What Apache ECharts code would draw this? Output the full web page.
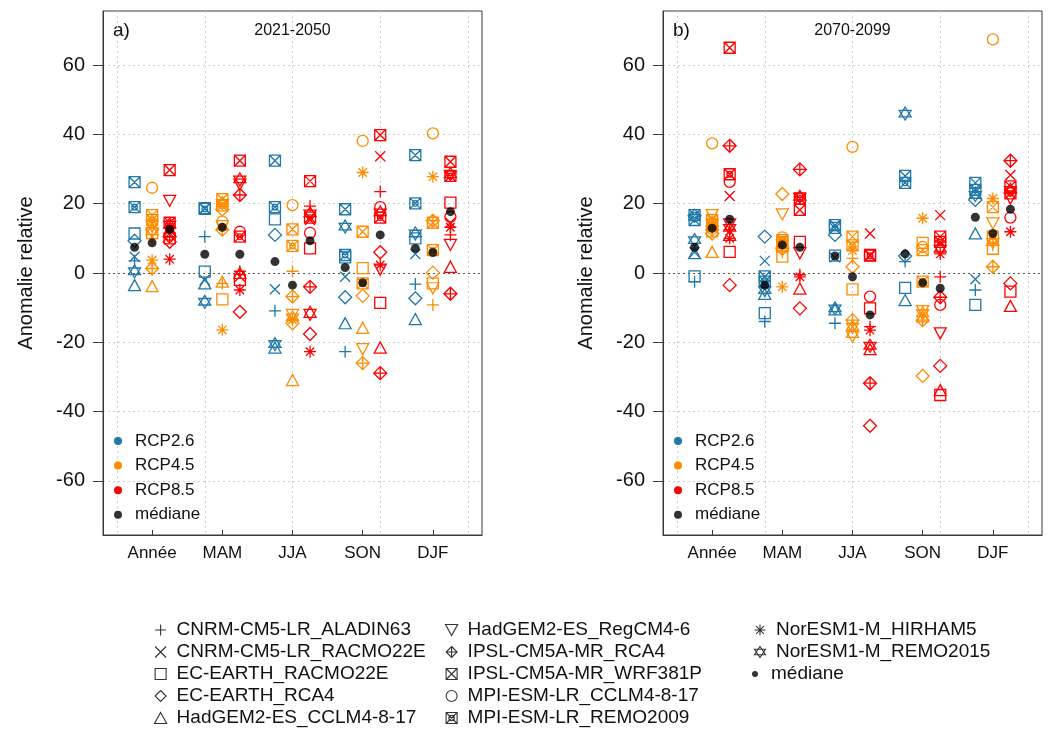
<!DOCTYPE html>
<html><head><meta charset="utf-8">
<script src="https://cdn.jsdelivr.net/npm/echarts@6/dist/echarts.min.js"></script>
<style>html,body{margin:0;padding:0;background:#fff}#c{width:1056px;height:733px}</style>
</head><body><div id="c"></div>
<script>
// ---------- DATA ----------
const seasons = ['Année', 'MAM', 'JJA', 'SON', 'DJF'];
const rcps = ['RCP2.6', 'RCP4.5', 'RCP8.5'];
const periods = ['2021-2050', '2070-2099'];
const panelTags = ['a)', 'b)'];
const yTicks = [-60, -40, -20, 0, 20, 40, 60];
const models = ['CNRM-CM5-LR_ALADIN63', 'CNRM-CM5-LR_RACMO22E', 'EC-EARTH_RACMO22E', 'EC-EARTH_RCA4',
  'HadGEM2-ES_CCLM4-8-17', 'HadGEM2-ES_RegCM4-6', 'IPSL-CM5A-MR_RCA4', 'IPSL-CM5A-MR_WRF381P',
  'MPI-ESM-LR_CCLM4-8-17', 'MPI-ESM-LR_REMO2009', 'NorESM1-M_HIRHAM5', 'NorESM1-M_REMO2015'];
const medianName = 'médiane';

// rows = seasons, columns = models (same order as `models`)
// panel a) 2021-2050
const a26 = [
  [3.5, 4.7, 11.4, 9.3, -3.5, null, null, 26.2, null, 19.0, null, 0.5],
  [10.5, -2.0, 0.4, null, -3.0, null, null, 18.7, null, 18.5, null, -8.3],
  [-10.9, -4.7, 15.5, 11.0, -21.5, null, null, 32.4, null, 19.0, null, -20.5],
  [-22.7, -1.1, 4.5, -7.0, -14.5, null, null, 18.4, null, 5.2, null, 13.4],
  [-3.2, 5.5, 10.0, -7.3, -13.3, null, null, 34.0, null, 20.1, null, 11.4]
];
const a45 = [
  [10.0, null, 11.5, 12.5, -3.8, 13.4, 1.3, 16.7, 24.6, 15.3, 3.7, 12.0],
  [-3.0, null, -7.6, 18.3, -2.5, 13.5, 12.5, 21.3, 14.8, 19.5, -16.4, 20.2],
  [0.5, null, null, -14.5, -30.9, -12.1, -6.8, 12.6, 19.6, 7.8, -13.5, -12.8],
  [null, null, 1.4, -6.6, -15.8, -22.0, -26.0, 11.9, 38.1, -3.0, 29.0, null],
  [-9.2, null, -3.0, 0.1, null, -4.4, 15.1, 14.5, 40.3, 6.6, 27.8, null]
];
const a85 = [
  [13.0, 11.5, 10.0, 9.0, 12.0, 20.8, 10.5, 29.7, 11.0, 14.5, 4.0, 14.0],
  [0.5, -1.0, -2.0, -11.2, 0.0, 25.5, 22.5, 32.4, 11.9, 10.5, -4.9, 27.0],
  [19.3, 15.3, 7.1, -17.6, -11.2, -12.1, -4.0, 26.5, 11.6, 16.0, -22.7, 17.2],
  [23.5, 33.7, -8.6, 6.0, -21.5, 1.0, -28.9, 39.8, 19.0, 16.0, 2.3, 17.5],
  [11.0, 14.5, 20.3, null, 1.8, 8.1, -6.0, 32.1, 16.2, 28.0, 13.2, 28.5]
];
// panel b) 2070-2099
const b26 = [
  [-2.5, 6.0, -1.0, 16.5, 5.7, null, null, 15.3, null, 16.7, null, 9.5],
  [-14.0, 3.5, -11.6, 10.5, -6.0, null, null, -1.0, null, -2.5, null, -4.9],
  [-14.5, 4.5, 5.0, 11.0, -10.5, null, null, 13.8, null, 13.0, null, -10.2],
  [3.3, null, -4.3, 4.9, -7.8, null, null, 28.0, null, 26.0, null, 46.0],
  [-4.9, -1.8, -9.2, 21.1, 11.4, null, null, 26.0, null, 24.0, null, 22.5]
];
const b45 = [
  [13.0, null, 12.0, 11.4, 6.1, 16.7, 12.5, 15.3, 37.4, 14.0, 13.5, 14.5],
  [6.0, null, 4.7, 22.8, 8.0, 16.9, 7.0, 9.0, 10.3, 9.5, -4.0, 8.5],
  [4.2, null, -4.7, 1.8, -17.0, -18.4, -13.6, 10.5, 36.4, 8.0, 6.5, -15.5],
  [null, null, 8.7, -29.7, -12.5, -11.0, -13.6, 6.6, 7.5, -2.5, 15.8, -11.6],
  [8.0, null, 7.0, null, null, 14.3, 1.8, 19.0, 67.4, 10.5, 21.5, 9.0]
];
const b85 = [
  [12.5, 22.2, 6.1, -3.5, 11.0, 14.0, 36.7, 65.0, 26.3, 28.5, 10.0, 13.0],
  [-0.5, null, 9.0, -10.2, -4.5, 5.7, 29.9, 18.2, null, 21.5, -1.1, 22.0],
  [-15.5, 11.4, -10.2, -44.1, -22.0, null, -31.8, 5.2, -6.8, 5.0, -16.5, -21.0],
  [-1.1, 16.7, -35.2, -26.8, -33.8, -17.4, -7.0, 10.5, -9.2, 9.0, 5.5, 7.0],
  [null, 28.3, -5.4, -3.0, -9.5, 21.5, 32.4, 25.0, 16.0, 23.0, 11.9, 24.0]
];
// medians per season
const medA26 = [7.4, 5.4, 3.3, 1.6, 7.1];
const medA45 = [8.7, 13.2, -3.5, -2.8, 5.9];
const medA85 = [12.6, 5.4, 9.3, 11.0, 17.7];
const medB26 = [7.4, -3.5, 4.9, 5.5, 16.1];
const medB45 = [12.9, 8.1, -1.1, -2.8, 11.4];
const medB85 = [15.5, 7.4, -12.1, -4.4, 18.4];

// ---------- STYLE ----------
const COLORS = ['#1f78a8', '#ff8c00', '#ff0000'];
const FONT = 'Liberation Sans, Arial, sans-serif';
const SYM = [
  'path://M5,0L5,10M0,5L10,5',
  'path://M0,0L10,10M0,10L10,0',
  'path://M0,0L10,0L10,10L0,10Z',
  'path://M5,0L10,5L5,10L0,5Z',
  'path://M5,0L10,9L0,9Z',
  'path://M0,0L10,0L5,9Z',
  'path://M5,0L10,5L5,10L0,5ZM5,0L5,10M0,5L10,5',
  'path://M0,0L10,0L10,10L0,10ZM0,0L10,10M0,10L10,0',
  'path://M10,5A5,5,0,1,1,0,5A5,5,0,1,1,10,5Z',
  'path://M0,0L10,0L10,10L0,10ZM0,0L10,10M0,10L10,0M7.5,5A2.5,2.5,0,1,1,2.5,5A2.5,2.5,0,1,1,7.5,5Z',
  'path://M5,0L5,10M0,5L10,5M1.5,1.5L8.5,8.5M1.5,8.5L8.5,1.5',
  'path://M5,0L10,7.5L0,7.5ZM0,2.5L10,2.5L5,10Z'
];
const SYMSIZE = [12, 10, 11, 13, [12, 11], [12, 11], 13, 11, 11, 11, 12, [12, 13]];

const panels = [[a26, a45, a85], [b26, b45, b85]];
const panelMed = [[medA26, medA45, medA85], [medB26, medB45, medB85]];
const gridLeft = [103, 663];
const GW = 379, GT = 11, GH = 524;

const grids = [], xAxes = [], yAxes = [], series = [], graphics = [], legends = [];
const gridColors = ['#cfcfcf', '#cfcfcf', '#cfcfcf', '#555555', '#cfcfcf', '#cfcfcf', '#cfcfcf'];

for (let p = 0; p < 2; p++) {
  grids.push({left: gridLeft[p], top: GT, width: GW, height: GH, show: true,
    borderColor: '#3a3a3a', borderWidth: 1, backgroundColor: 'transparent'});
  const labelPos = seasons.map((s, i) => 4 * i + 2);
  xAxes.push({type: 'value', gridIndex: p, min: -0.8, max: 20.8, position: 'bottom',
    axisLine: {show: true, onZero: false, lineStyle: {color: '#3a3a3a'}},
    axisTick: {show: true, inside: true, length: 5, customValues: labelPos, lineStyle: {color: '#3a3a3a'}},
    axisLabel: {customValues: labelPos, formatter: v => seasons[Math.round((v - 2) / 4)],
      fontSize: 17, fontFamily: FONT, color: '#111', margin: 10},
    splitLine: {show: false}});
  xAxes.push({type: 'value', gridIndex: p, min: -0.8, max: 20.8, position: 'top',
    axisLine: {show: false, onZero: false}, axisTick: {show: false, customValues: [0, 5, 10, 15, 20]},
    axisLabel: {show: false},
    splitLine: {show: true, lineStyle: {color: '#cfcfcf', type: [2, 3], width: 1}}});
  yAxes.push({type: 'value', gridIndex: p, min: -75.6, max: 75.6,
    name: 'Anomalie relative', nameLocation: 'middle', nameGap: 67,
    nameTextStyle: {fontSize: 20, fontFamily: FONT, color: '#111'},
    axisLine: {show: true, onZero: false, lineStyle: {color: '#3a3a3a'}},
    axisTick: {show: true, length: 10, customValues: yTicks, lineStyle: {color: '#3a3a3a'}},
    axisLabel: {customValues: yTicks, fontSize: 20, fontFamily: FONT, color: '#111', margin: 18},
    splitLine: {show: true, lineStyle: {color: gridColors, type: [2, 3], width: 1}}});

  for (let r = 0; r < 3; r++) {
    const data = [];
    panels[p][r].forEach((row, s) => row.forEach((v, m) => {
      if (v !== null) data.push({value: [4 * s + r + 1, v], symbol: SYM[m], symbolSize: SYMSIZE[m]});
    }));
    series.push({type: 'scatter', name: rcps[r], xAxisIndex: 2 * p, yAxisIndex: p, data,
      itemStyle: {color: 'none', borderColor: COLORS[r], borderWidth: 1.3, opacity: 1},
      z: 3, silent: true, animation: false});
  }
  const md = [];
  for (let r = 0; r < 3; r++) panelMed[p][r].forEach((v, s) => md.push([4 * s + r + 1, v]));
  series.push({type: 'scatter', name: medianName, xAxisIndex: 2 * p, yAxisIndex: p, data: md,
    symbol: 'circle', symbolSize: 9, itemStyle: {color: '#000'}, z: 4, silent: true, animation: false});

  graphics.push({type: 'text', x: gridLeft[p] + GW / 2, y: 31,
    style: {text: periods[p], font: '16px ' + FONT, fill: '#111', textAlign: 'center', textVerticalAlign: 'middle'}});
  graphics.push({type: 'text', x: gridLeft[p] + 10, y: 31,
    style: {text: panelTags[p], font: '19px ' + FONT, fill: '#111', textAlign: 'left', textVerticalAlign: 'middle'}});

  legends.push({orient: 'vertical', left: gridLeft[p] + 11, top: 431, padding: 0, itemWidth: 24, itemHeight: 8,
    itemGap: 4.6, selectedMode: false,
    textStyle: {fontSize: 17, fontFamily: FONT, color: '#111', lineHeight: 20},
    data: rcps.map((n, r) => ({name: n, icon: 'circle', itemStyle: {color: COLORS[r], borderWidth: 0}}))
      .concat([{name: medianName, icon: 'circle', itemStyle: {color: '#000', borderWidth: 0}}])});
}

// dummy series carrying the model symbols for the bottom legend
models.forEach((n, m) => series.push({type: 'scatter', name: n, xAxisIndex: 0, yAxisIndex: 0, data: [],
  symbol: SYM[m], itemStyle: {color: 'none', borderColor: '#000', borderWidth: 1.1}, silent: true}));

const legCols = [[0, 1, 2, 3, 4], [5, 6, 7, 8, 9], [10, 11]];
const legLeft = [152, 443, 752];
legCols.forEach((col, c) => legends.push({orient: 'vertical', left: legLeft[c], top: 620, height: 113,
  padding: 0, itemWidth: 22, itemHeight: 11, itemGap: 2, selectedMode: false,
  textStyle: {fontSize: 19, fontFamily: FONT, color: '#111', lineHeight: 20},
  data: col.map(m => ({name: models[m], icon: SYM[m],
    itemStyle: {color: 'none', borderColor: '#000', borderWidth: 1.1}}))}));
legends.push({orient: 'vertical', left: 752, top: 664, padding: 0, itemWidth: 22, itemHeight: 6, selectedMode: false,
  textStyle: {fontSize: 19, fontFamily: FONT, color: '#111', lineHeight: 20},
  data: [{name: medianName, icon: 'circle', itemStyle: {color: '#000', borderWidth: 0}}]});

const chart = echarts.init(document.getElementById('c'), null, {renderer: 'canvas'});
chart.setOption({
  animation: false, backgroundColor: '#fff',
  textStyle: {fontFamily: FONT},
  grid: grids, xAxis: xAxes, yAxis: yAxes, series, legend: legends, graphic: graphics
});
</script></body></html>
